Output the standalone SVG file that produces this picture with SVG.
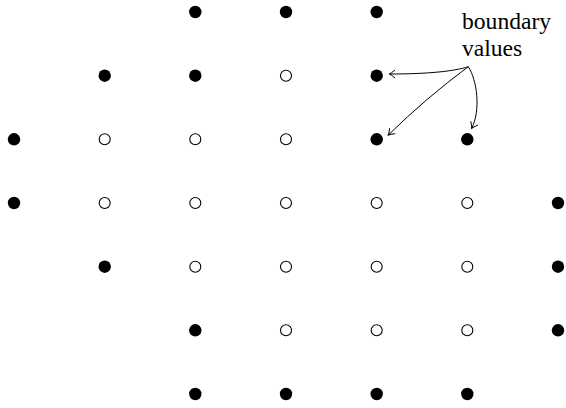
<svg xmlns="http://www.w3.org/2000/svg" width="566" height="408" viewBox="0 0 566 408">
<style>
.f{fill:#000}
.o{fill:#fff;stroke:#000;stroke-width:1.1}
.c{fill:none;stroke:#000;stroke-width:1}
.t{font-family:"Liberation Serif","Times New Roman",serif;font-size:23.6px;fill:#000}
</style>
<defs>
<marker id="ah" markerUnits="userSpaceOnUse" markerWidth="12" markerHeight="12" refX="0" refY="0" viewBox="-7 -6 8 12" orient="auto" overflow="visible">
<path d="M-5.5,-3.8 Q-2,-0.8 0,0 Q-2,0.8 -5.5,3.8" fill="none" stroke="#000" stroke-width="1" stroke-linecap="round"/>
</marker>
</defs>
<g id="row0">
<circle class="f" cx="195.3" cy="12" r="6.2"/>
<circle class="f" cx="286" cy="12" r="6.2"/>
<circle class="f" cx="376.7" cy="12" r="6.2"/>
</g>
<g id="row1">
<circle class="f" cx="104.7" cy="75.7" r="6.2"/>
<circle class="f" cx="195.3" cy="75.7" r="6.2"/>
<circle class="o" cx="286" cy="75.7" r="5.5"/>
<circle class="f" cx="376.7" cy="75.7" r="6.2"/>
</g>
<g id="row2">
<circle class="f" cx="14" cy="139.3" r="6.2"/>
<circle class="o" cx="104.7" cy="139.3" r="5.5"/>
<circle class="o" cx="195.3" cy="139.3" r="5.5"/>
<circle class="o" cx="286" cy="139.3" r="5.5"/>
<circle class="f" cx="376.7" cy="139.3" r="6.2"/>
<circle class="f" cx="467.3" cy="139.3" r="6.2"/>
</g>
<g id="row3">
<circle class="f" cx="14" cy="203" r="6.2"/>
<circle class="o" cx="104.7" cy="203" r="5.5"/>
<circle class="o" cx="195.3" cy="203" r="5.5"/>
<circle class="o" cx="286" cy="203" r="5.5"/>
<circle class="o" cx="376.7" cy="203" r="5.5"/>
<circle class="o" cx="467.3" cy="203" r="5.5"/>
<circle class="f" cx="558" cy="203" r="6.2"/>
</g>
<g id="row4">
<circle class="f" cx="104.7" cy="266.7" r="6.2"/>
<circle class="o" cx="195.3" cy="266.7" r="5.5"/>
<circle class="o" cx="286" cy="266.7" r="5.5"/>
<circle class="o" cx="376.7" cy="266.7" r="5.5"/>
<circle class="o" cx="467.3" cy="266.7" r="5.5"/>
<circle class="f" cx="558" cy="266.7" r="6.2"/>
</g>
<g id="row5">
<circle class="f" cx="195.3" cy="330.3" r="6.2"/>
<circle class="o" cx="286" cy="330.3" r="5.5"/>
<circle class="o" cx="376.7" cy="330.3" r="5.5"/>
<circle class="o" cx="467.3" cy="330.3" r="5.5"/>
<circle class="f" cx="558" cy="330.3" r="6.2"/>
</g>
<g id="row6">
<circle class="f" cx="195.3" cy="394" r="6.2"/>
<circle class="f" cx="286" cy="394" r="6.2"/>
<circle class="f" cx="376.7" cy="394" r="6.2"/>
<circle class="f" cx="467.3" cy="394" r="6.2"/>
</g>
<g id="label">
<text class="t" x="462" y="29">boundary</text>
<text class="t" x="462" y="56">values</text>
</g>
<g id="connectors">
<path class="c" d="M468.3,66.7 C455,71 430,74 389.3,74" marker-end="url(#ah)"/>
<path class="c" d="M468.3,66.7 Q426,98 388.3,135" marker-end="url(#ah)"/>
<path class="c" d="M468.3,66.7 C477,80 481,110 471.7,128.3" marker-end="url(#ah)"/>
</g>
</svg>
